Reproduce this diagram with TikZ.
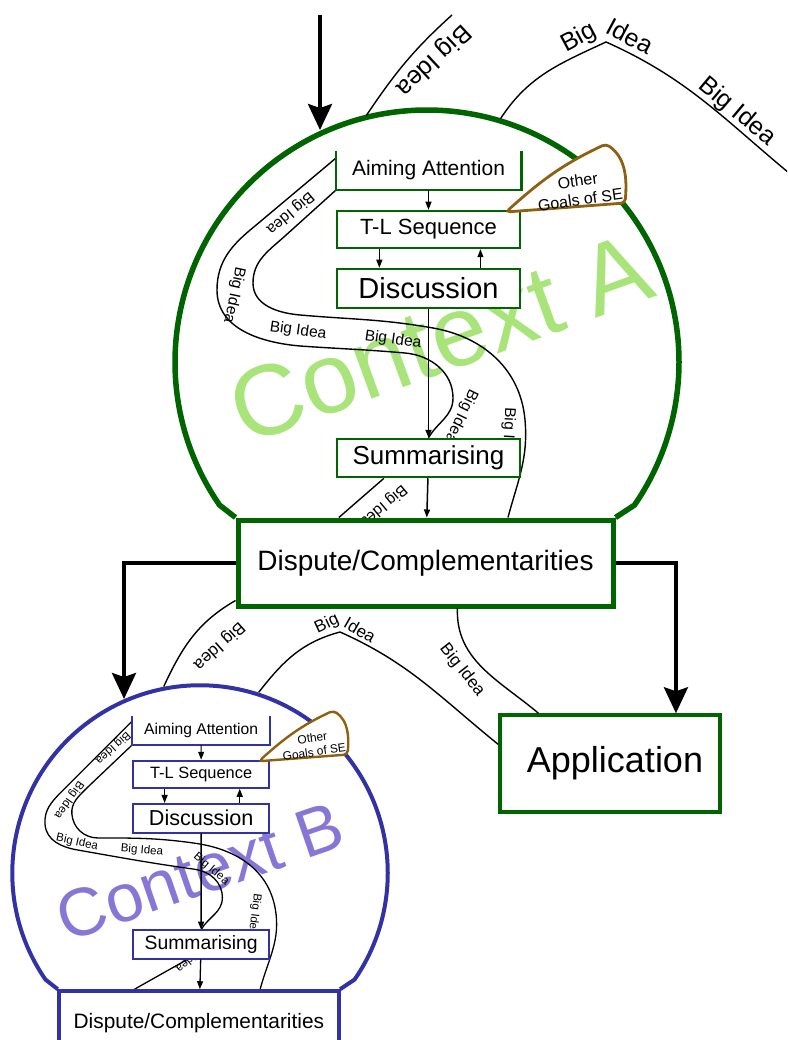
\documentclass[tikz,border=0pt]{standalone}
\usepackage{fontspec}
\setmainfont{Liberation Sans}
\usetikzlibrary{arrows.meta,calc,backgrounds}
\definecolor{ctxgreen}{RGB}{0,100,0}
\definecolor{lightgreen}{RGB}{168,228,122}
\definecolor{ctxblue}{RGB}{50,50,165}
\definecolor{lavender}{RGB}{136,118,214}
\definecolor{goalbrown}{RGB}{140,98,16}
\tikzset{
  stage/.style={rectangle, draw, fill=white, inner sep=0pt, line width=2.5pt, minimum width=183pt, minimum height=37pt},
  flow/.style={-{Triangle[length=8pt,width=6pt]}, line width=1.2pt},
  bigflow/.style={-{Stealth[length=26pt,width=24pt,inset=4pt]}, line width=3.5pt},
  idea/.style={line width=1.4pt},
  idealabel/.style={font=\fontsize{15.5}{18}\selectfont, inner sep=0pt},
  midlabel/.style={font=\fontsize{17}{20}\selectfont, inner sep=0pt},
  outerlabel/.style={font=\fontsize{25}{28}\selectfont, inner sep=0pt},
  ctxlabel/.style={font=\fontsize{100}{100}\selectfont, inner sep=0pt},
  goals/.style={line width=2.8pt, draw=goalbrown, fill=white, rounded corners=4pt}
}
\begin{document}
\begin{tikzpicture}[x=1pt, y=1pt]
  \clip (0,0) rectangle (787,-1040);

  \begin{scope}
    \node (aimA) [stage, draw=none, font=\fontsize{21}{25}\selectfont] at (428.5,-170.5) {Aiming Attention};
    \node (tlA) [stage, draw=ctxgreen, font=\fontsize{22}{26}\selectfont] at (428.5,-229.5) {T-L Sequence};
    \node (discA) [stage, draw=ctxgreen, minimum height=39pt, font=\fontsize{29}{33}\selectfont] at (428.5,-288.5) {Discussion};
    \node (sumA) [stage, draw=ctxgreen, minimum height=38pt, font=\fontsize{26}{30}\selectfont] at (428.5,-458) {Summarising};
    \node (dispA) [stage, draw=ctxgreen, line width=5pt, minimum width=375pt, minimum height=86pt, font=\fontsize{28}{32}\selectfont] at (425.5,-563) {Dispute/Complementarities};
    \draw[ctxgreen, line width=2.5pt] (aimA.north west) -- (aimA.south west) -- (aimA.south east) -- (aimA.north east);

    \draw[flow] (aimA) -- (tlA);
    \draw[flow] ($(tlA.south west)!.235!(tlA.south east)$) -- ($(discA.north west)!.235!(discA.north east)$);
    \draw[flow] ($(discA.north west)!.78!(discA.north east)$) -- ($(tlA.south west)!.78!(tlA.south east)$);
    \draw[flow, line width=1.8pt] (discA) -- (sumA);
    \draw[flow, line width=1.5pt] (sumA) -- (dispA);

    \begin{scope}[on background layer]
      \node (ctxlabA) [ctxlabel, text=lightgreen, rotate=20] at (440,-338) {Context A};
      \coordinate (bandA1) at ($(aimA.north west)!.19!(aimA.south west)$);
      \draw[idea] (bandA1) -- (255,-226) to[out=219,in=90] (217,-290) to[out=-90,in=175] (300,-346)
        to[out=-4,in=175] (405,-353) to[out=-5,in=90] (453,-398) to[out=-90,in=60] (sumA.north);
      \draw[idea] (aimA.south west) -- (285,-236) to[out=222,in=90] (253,-283) to[out=-90,in=175] (300,-315)
        to[out=-5,in=170] (433,-328) to[out=-10,in=95] (525,-420) to[out=-85,in=75] ($(dispA.north west)!.717!(dispA.north east)$);
      \draw[idea] ($(sumA.south west)!.26!(sumA.south east)$) -- ($(dispA.north west)!.272!(dispA.north east)$);
      \node (ideaA1) [idealabel, rotate=220] at (290,-213) {Big Idea};
      \node (ideaA2) [idealabel, rotate=-102] at (234,-295) {Big Idea};
      \node (ideaA3) [idealabel, rotate=-8] at (298,-331) {Big Idea};
      \node (ideaA4) [idealabel, rotate=-8] at (393,-340) {Big Idea};
      \node (ideaA5) [idealabel, rotate=-116] at (461,-416) {Big Idea};
      \node (ideaA6) [idealabel, rotate=-93] at (508,-436) {Big Idea};
      \node (ideaA7) [idealabel, rotate=220] at (383,-506) {Big Idea};
    \end{scope}

    \draw[ctxgreen, line width=5.5pt] (dispA.north west) -- (219.6,-505.1) arc[start angle=214.6, end angle=-34.6, radius=252] -- (dispA.north east);
    \draw[goals] (506,-212) to[out=42,in=205] (606,-144) to[out=-35,in=85] (625,-203) -- cycle;
    \node (goalsA) [font=\fontsize{16}{19}\selectfont, align=center, rotate=8, inner sep=0pt] at (579,-190) {Other\\Goals of SE};
  \end{scope}

  \begin{scope}[shift={(-118.1,-603.3)}, scale=0.745, transform shape]
    \node (aimB) [stage, draw=none, font=\fontsize{21}{25}\selectfont] at (428.5,-170.5) {Aiming Attention};
    \node (tlB) [stage, draw=ctxblue, line width=2pt, font=\fontsize{22}{26}\selectfont] at (428.5,-229.5) {T-L Sequence};
    \node (discB) [stage, draw=ctxblue, line width=2pt, minimum height=39pt, font=\fontsize{29}{33}\selectfont] at (428.5,-288.5) {Discussion};
    \node (sumB) [stage, draw=ctxblue, line width=2pt, minimum height=38pt, font=\fontsize{26}{30}\selectfont] at (428.5,-458) {Summarising};
    \node (dispB) [stage, draw=ctxblue, line width=4pt, minimum width=375pt, minimum height=86pt, font=\fontsize{28}{32}\selectfont] at (425.5,-563) {Dispute/Complementarities};
    \draw[ctxblue, line width=2pt] (aimB.north west) -- (aimB.south west) -- (aimB.south east) -- (aimB.north east);

    \draw[flow, line width=1.1pt] (aimB) -- (tlB);
    \draw[flow, line width=1.1pt] ($(tlB.south west)!.235!(tlB.south east)$) -- ($(discB.north west)!.235!(discB.north east)$);
    \draw[flow, line width=1.1pt] ($(discB.north west)!.78!(discB.north east)$) -- ($(tlB.south west)!.78!(tlB.south east)$);
    \draw[flow, line width=1.6pt] (discB) -- (sumB);
    \draw[flow, line width=1.3pt] (sumB) -- (dispB);

    \begin{scope}[on background layer]
      \node (ctxlabB) [ctxlabel, text=lavender, rotate=19, scale=0.91] at (427,-360) {Context B};
      \coordinate (bandB1) at ($(aimB.north west)!.19!(aimB.south west)$);
      \draw[idea, line width=1.3pt] (bandB1) -- (242,-252) to[out=225,in=95] (219,-297) to[out=-85,in=170] (262,-331)
        to[out=-10,in=172] (420,-357) to[out=-8,in=90] (457,-395) to[out=-90,in=60] (sumB.north);
      \draw[idea, line width=1.3pt] (aimB.south west) -- (275,-248) to[out=226,in=95] (255,-283) to[out=-85,in=180] (290,-315)
        to[out=0,in=172] (420,-322) to[out=-8,in=100] (528,-410) to[out=-80,in=75] ($(dispB.north west)!.717!(dispB.north east)$);
      \draw[idea, line width=1.3pt] ($(sumB.south west)!.4!(sumB.south east)$) -- ($(dispB.north west)!.272!(dispB.north east)$);
      \node (ideaB1) [idealabel, rotate=222] at (310,-194) {Big Idea};
      \node (ideaB2) [idealabel, rotate=235] at (251,-264) {Big Idea};
      \node (ideaB3) [idealabel, rotate=-12] at (262,-321) {Big Idea};
      \node (ideaB4) [idealabel, rotate=-5] at (349,-332) {Big Idea};
      \node (ideaB5) [idealabel, rotate=-40] at (442,-357) {Big Idea};
      \node (ideaB6) [idealabel, rotate=-97] at (500,-418) {Big Idea};
      \node (ideaB7) [idealabel, rotate=220] at (418,-474) {Big Idea};
    \end{scope}

    \draw[ctxblue, line width=4pt] (dispB.north west) -- (219.6,-505.1) arc[start angle=214.6, end angle=-34.6, radius=252] -- (dispB.north east);
    \draw[goals, line width=2.4pt] (506,-212) to[out=42,in=205] (606,-144) to[out=-35,in=85] (625,-203) -- cycle;
    \node (goalsB) [font=\fontsize{16}{19}\selectfont, align=center, rotate=8, inner sep=0pt] at (579,-190) {Other\\Goals of SE};
  \end{scope}

  \coordinate (cA) at (427,-362);
  \coordinate (cB) at (200,-873);
  \coordinate (srcA) at (320,-15);
  \coordinate (inA) at (320,-130);
  \coordinate (inB) at (124,-699);
  \coordinate (topend) at (452,-15);
  \coordinate (peakA) at (606,-42);
  \coordinate (farend) at (800,-182);
  \coordinate (peakB) at (340,-632);

  \node (appl) [stage, draw=ctxgreen, line width=3.5pt, minimum width=220pt, minimum height=97pt, font=\fontsize{36}{40}\selectfont] at (610,-763.5) {\hspace*{10pt}Application};

  \draw[bigflow] (srcA) -- (inA);
  \draw[bigflow] (dispA.west) -| (inB);
  \draw[bigflow] (dispA.east) -| ($(appl.north west)!.795!(appl.north east)$);

  \draw[idea] ($(cA)+(103.8:254)$) to[out=56,in=222] (topend);
  \draw[idea] ($(cA)+(73.2:254)$) to[out=57,in=205] (peakA) to[out=-24,in=141] (farend);
  \node (ideaT1) [outerlabel, rotate=223] at (433,-60) {Big Idea};
  \node (ideaT2) [outerlabel, rotate=28] at (579,-38) {Big};
  \node (ideaT3) [outerlabel, rotate=-28] at (630,-36) {Idea};
  \node (ideaT4) [outerlabel, rotate=-40] at (737,-112) {Big Idea};

  \draw[idea] ($(dispA.south west)+(0,8)$) to[out=210,in=65] ($(cB)+(101:190)$);
  \draw[idea] ($(cB)+(72:190)$) to[out=52,in=195] (peakB) to[out=-24,in=141] ($(appl.north west)!.31!(appl.south west)$);
  \draw[idea] ($(dispA.south west)!.584!(dispA.south east)$) to[out=-92,in=140] ($(appl.north west)!.18!(appl.north east)$);
  \node (ideaM1) [midlabel, rotate=222] at (219,-646) {Big Idea};
  \node (ideaM2) [midlabel, rotate=25] at (327,-624) {Big};
  \node (ideaM3) [midlabel, rotate=-30] at (360,-630) {Idea};
  \node (ideaM4) [midlabel, rotate=-52] at (462,-670) {Big Idea};
\end{tikzpicture}
\end{document}
